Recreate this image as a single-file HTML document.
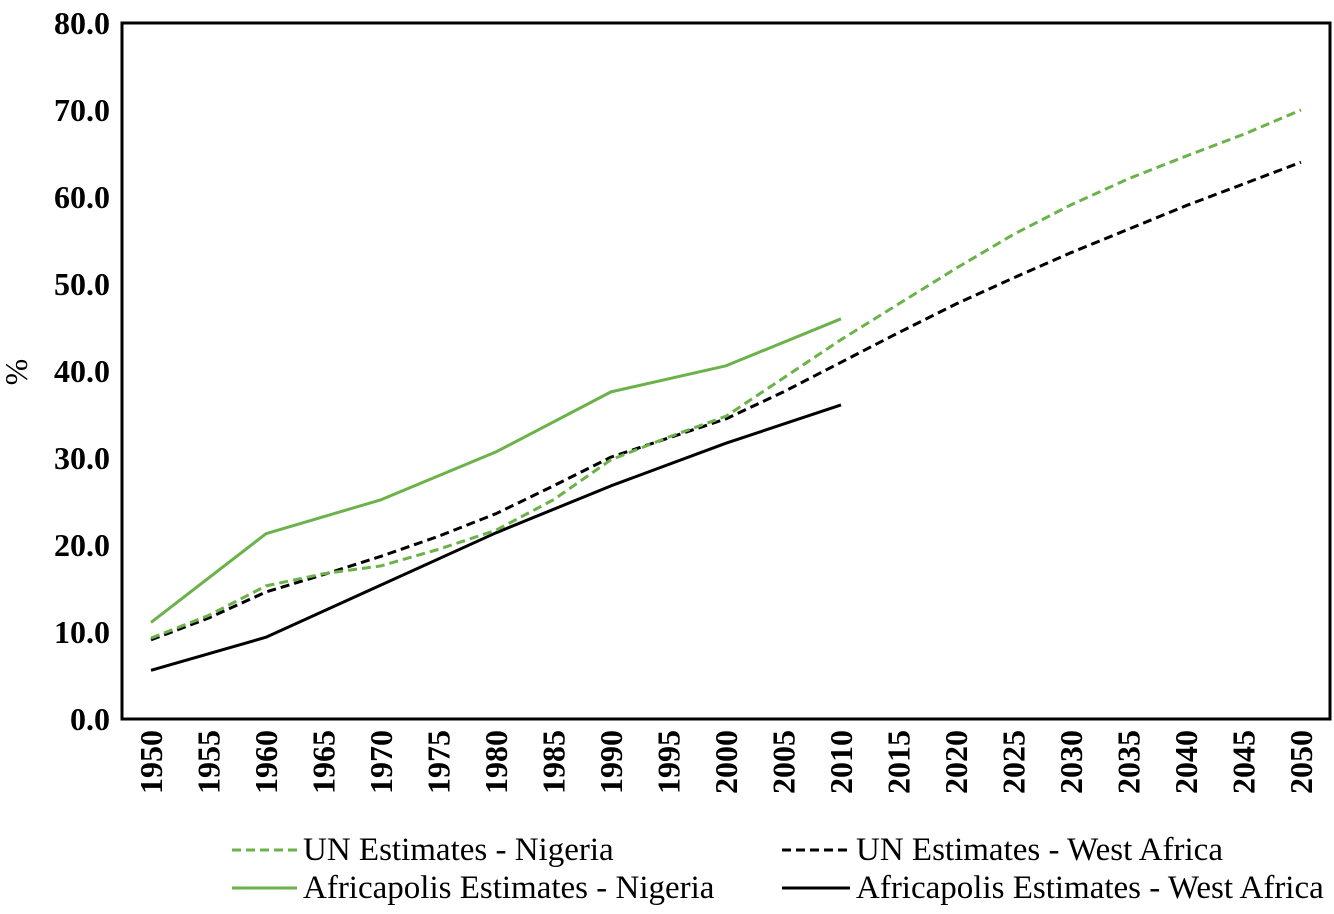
<!DOCTYPE html>
<html><head><meta charset="utf-8"><style>
body{margin:0;background:#fff}
svg text{font-family:"Liberation Serif",serif}
</style></head><body>
<svg id="chart" width="1334" height="909">
<rect x="122" y="23" width="1208" height="696" fill="none" stroke="#000" stroke-width="3"/>
<text x="27" y="372" font-size="32" text-anchor="middle" transform="rotate(-90 27 372)">%</text>
<g id="yt"></g><g id="xt"></g><g id="series"></g>
<g>
<line x1="232" y1="850" x2="297" y2="850" stroke="#6cb24a" stroke-width="3" stroke-dasharray="9,5"/>
<text x="303" y="860" font-size="33">UN Estimates - Nigeria</text>
<line x1="232" y1="888" x2="297" y2="888" stroke="#6cb24a" stroke-width="3"/>
<text x="303" y="898" font-size="33">Africapolis Estimates - Nigeria</text>
<line x1="782" y1="850" x2="850" y2="850" stroke="#000" stroke-width="3" stroke-dasharray="9,5"/>
<text x="856" y="860" font-size="33">UN Estimates - West Africa</text>
<line x1="782" y1="888" x2="850" y2="888" stroke="#000" stroke-width="3"/>
<text x="856" y="898" font-size="33">Africapolis Estimates - West Africa</text>
</g>
</svg>
<script>
const years=[1950,1955,1960,1965,1970,1975,1980,1985,1990,1995,2000,2005,2010,2015,2020,2025,2030,2035,2040,2045,2050];
const afYears=[1950,1960,1970,1980,1990,2000,2010];
const unNigeria=[9.3,11.9,15.3,16.7,17.6,19.5,21.7,25.2,29.8,32.4,34.8,39.2,43.6,47.7,51.8,55.7,59.1,62.1,64.7,67.2,70.0];
const unWestAfrica=[9.1,11.6,14.6,16.6,18.7,21.0,23.6,26.8,30.1,32.3,34.5,37.6,41.0,44.4,47.7,50.7,53.6,56.3,59.0,61.5,64.0];
const afNigeria=[11.1,21.3,25.2,30.7,37.6,40.6,46.0];
const afWestAfrica=[5.6,9.4,15.4,21.4,26.8,31.7,36.1];
const yTicks=[0,10,20,30,40,50,60,70,80];
const NS="http://www.w3.org/2000/svg";
const xs=y=>151+(y-1950)*11.5;
const ys=v=>719-v*8.7;
function mk(t,a,p){const e=document.createElementNS(NS,t);for(const k in a)e.setAttribute(k,a[k]);p.appendChild(e);return e;}
const yt=document.getElementById('yt');
yTicks.forEach(v=>{const t=mk('text',{x:110,y:ys(v)+11,'font-size':32,'font-weight':'bold','text-anchor':'end'},yt);t.textContent=v.toFixed(1);

});
const xt=document.getElementById('xt');
years.forEach(y=>{const x=xs(y)+11;const t=mk('text',{x:x,y:730,'font-size':32,'font-weight':'bold','text-anchor':'end',transform:`rotate(-90 ${x} 730)`},xt);t.textContent=y;

});
const sg=document.getElementById('series');
function line(xv,yv,color,dash,name){const pts=xv.map((x,i)=>xs(x)+','+ys(yv[i])).join(' ');
const p=mk('polyline',{points:pts,fill:'none',stroke:color,'stroke-width':3,'stroke-dasharray':dash||'none','stroke-linejoin':'round'},sg);

}
line(afYears,afNigeria,'#6cb24a',null,'line-africapolis-nigeria');
line(afYears,afWestAfrica,'#000',null,'line-africapolis-west-africa');
line(years,unWestAfrica,'#000','9,5','line-un-west-africa');
line(years,unNigeria,'#6cb24a','9,5','line-un-nigeria');
</script>
</body></html>
